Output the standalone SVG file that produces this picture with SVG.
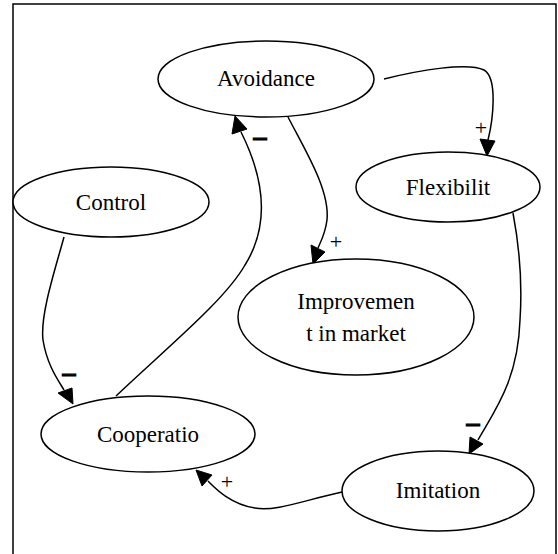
<svg xmlns="http://www.w3.org/2000/svg" width="558" height="554" viewBox="0 0 558 554">
<style>
.n ellipse{fill:#fff;stroke:#000;stroke-width:1.5}
.n text{font-size:23px;text-anchor:middle;fill:#000}
.e path{fill:none;stroke:#000;stroke-width:1.5}
.e polygon{fill:#000;stroke:#000;stroke-width:1}
.lbl{font-size:22px;text-anchor:middle;fill:#000}
.neg{font-size:26px;font-weight:bold;text-anchor:middle;fill:#000;stroke:#000;stroke-width:1.2}
</style>
<rect x="13" y="4" width="543" height="560" fill="#fff" stroke="#000" stroke-width="1.5"/>
<g class="e" id="edges">
<path d="M384,79 C420,70 468,62 484,70 C498,78 493,120 488,140" />
<polygon points="480,139 495,141 487,156"/>
<path d="M288,117 C305,150 330,190 327,220 C325,235 320,243 318,248" />
<polygon points="311,245 325,252 313,264"/>
<path d="M116,396 C170,345 225,300 245,265 C270,225 265,180 241,132" />
<polygon points="232,134 247,129 235,116"/>
<path d="M64,237 C55,270 40,315 43,340 C47,365 58,380 64,390" />
<polygon points="58,393 72,388 73,404"/>
<path d="M513,213 C520,250 522,290 520,320 C518,380 495,410 478,440" />
<polygon points="470,437 483,444 469,454"/>
<path d="M342,492 C305,500 275,512 255,508 C230,504 215,488 208,481" />
<polygon points="212,475 202,486 196,470"/>
</g>
<g id="edge-labels" font-family="'Liberation Serif','Times New Roman',serif">
<text class="lbl" x="481" y="135">+</text>
<text class="lbl" x="336" y="249">+</text>
<text class="lbl" x="227" y="489">+</text>
<text class="neg" x="260" y="145">–</text>
<text class="neg" x="69" y="381">–</text>
<text class="neg" x="473" y="431">–</text>
</g>
<g font-family="'Liberation Serif','Times New Roman',serif">
<g class="n" id="avoidance"><ellipse cx="266" cy="79" rx="108" ry="38"/><text x="266" y="86">Avoidance</text></g>
<g class="n" id="flexibilit"><ellipse cx="448" cy="187" rx="92" ry="35"/><text x="448" y="195">Flexibilit</text></g>
<g class="n" id="control"><ellipse cx="111" cy="202" rx="98" ry="35"/><text x="111" y="210">Control</text></g>
<g class="n" id="improvement"><ellipse cx="356" cy="317" rx="118" ry="58"/><text x="356" y="309">Improvemen</text><text x="356" y="341">t in market</text></g>
<g class="n" id="cooperatio"><ellipse cx="148" cy="434" rx="107" ry="38"/><text x="148" y="442">Cooperatio</text></g>
<g class="n" id="imitation"><ellipse cx="438" cy="491" rx="96" ry="40"/><text x="438" y="498">Imitation</text></g>
</g>
</svg>
